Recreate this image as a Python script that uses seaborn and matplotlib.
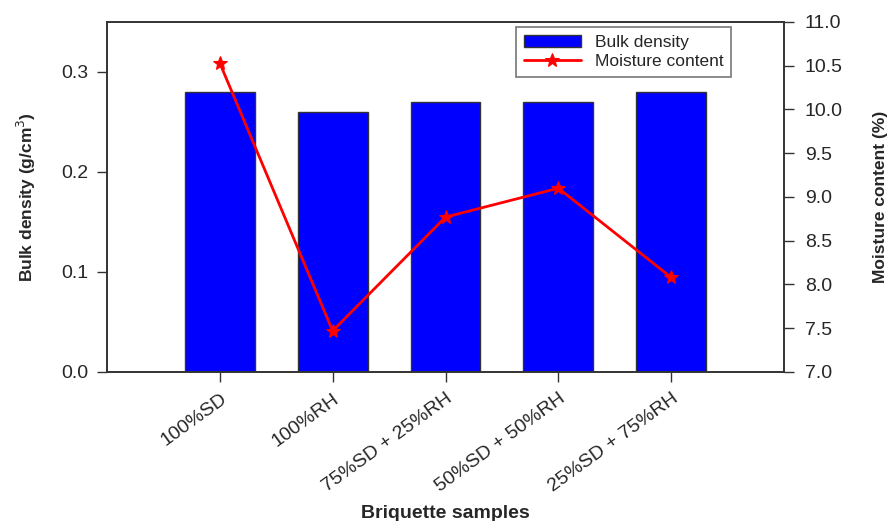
import numpy as np
import pandas as pd
import matplotlib
matplotlib.use("Agg")
import matplotlib.pyplot as plt
import seaborn as sns

samples = ["100%SD", "100%RH", "75%SD + 25%RH", "50%SD + 50%RH", "25%SD + 75%RH"]
bulk_density = [0.28, 0.26, 0.27, 0.27, 0.28]
moisture = [10.53, 7.47, 8.77, 9.10, 8.08]


def plot_chart():
    sns.set_style("white")
    plt.rcParams["font.family"] = ["Liberation Sans", "DejaVu Sans"]
    df = pd.DataFrame({"sample": samples, "bulk": bulk_density, "moist": moisture})

    fig = plt.figure(figsize=(8.91, 5.21), dpi=100)
    ax = fig.add_axes([0.120, 0.286, 0.760, 0.672])

    sns.barplot(data=df, x="sample", y="bulk", color="#0000ff", width=0.62,
                edgecolor="#333333", linewidth=1.0, saturation=1, ax=ax)
    ax.set_xlim(-1, 5)
    ax.set_ylim(0, 0.35)
    ax.set_yticks([0.0, 0.1, 0.2, 0.3])
    ax.set_yticklabels(["0.0", "0.1", "0.2", "0.3"], fontsize=14)
    ax.set_xticks(range(len(samples)))
    ax.set_xticklabels(samples, rotation=36, ha="right", rotation_mode="anchor", fontsize=14)
    ax.tick_params(axis="both", direction="out", length=7, width=1, color="#333333",
                   left=True, bottom=True, pad=6)
    ax.set_ylabel("Bulk density (g/cm$^3$)", fontsize=12.5, fontweight="bold")
    ax.yaxis.set_label_coords(-0.102, 0.5)
    ax.set_xlabel("Briquette samples", fontsize=14, fontweight="bold")
    ax.xaxis.set_label_coords(0.5, -0.38)

    ax2 = ax.twinx()
    sns.lineplot(x=np.arange(len(samples)), y=moisture, ax=ax2, color="red",
                 marker="*", markersize=10, markeredgecolor="red", linewidth=2,
                 legend=False)
    ax2.set_ylim(7.0, 11.0)
    ax2.set_yticks(np.arange(7.0, 11.01, 0.5))
    ax2.set_yticklabels([f"{v:.1f}" for v in np.arange(7.0, 11.01, 0.5)], fontsize=14)
    ax2.tick_params(axis="y", direction="out", length=7, width=1, color="#333333",
                    right=True, pad=8)
    ax2.set_ylabel("Moisture content (%)", fontsize=12.5, fontweight="bold", labelpad=22)

    for a in (ax, ax2):
        for s in a.spines.values():
            s.set_color("#333333")
            s.set_linewidth(1.2)

    handles = [ax.patches[0], ax2.lines[0]]
    labels = ["Bulk density", "Moisture content"]
    leg = ax2.legend(handles, labels, loc="upper right", bbox_to_anchor=(0.922, 0.986),
                     borderaxespad=0, fontsize=12.5, frameon=True, fancybox=False,
                     edgecolor="#555555", borderpad=0.45, handlelength=3.3,
                     labelspacing=0.25)
    leg.get_frame().set_linewidth(1.2)

    fig.savefig("out.png", dpi=100)
    plt.close(fig)


if __name__ == "__main__":
    plot_chart()
